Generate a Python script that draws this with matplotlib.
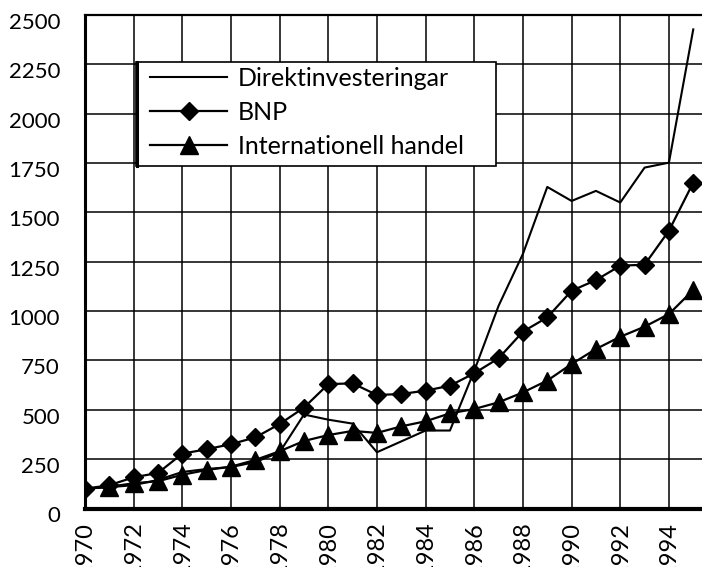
import matplotlib
matplotlib.use("Agg")
import matplotlib.pyplot as plt
import matplotlib.transforms as mtransforms
from matplotlib.patches import Rectangle
from matplotlib.lines import Line2D

years = list(range(1970, 1996))
direkt = [100, 108, 118, 145, 185, 200, 210, 235, 285, 476, 450, 430, 285, 340,
          395, 395, 698, 1027, 1290, 1629, 1558, 1609, 1550, 1727, 1752, 2427]
bnp = [100, 118, 158, 180, 278, 300, 326, 360, 428, 511, 630, 634, 575, 580,
       597, 622, 685, 761, 896, 968, 1103, 1157, 1230, 1235, 1407, 1651]
handel = [100, 110, 128, 138, 171, 195, 212, 246, 290, 342, 372, 393, 383, 416,
          442, 482, 504, 538, 588, 648, 732, 808, 870, 921, 985, 1107]
labels = ["Direktinvesteringar", "BNP", "Internationell handel"]
yticks = [0, 250, 500, 750, 1000, 1250, 1500, 1750, 2000, 2250, 2500]
xticks = list(range(1970, 1996, 2))

plt.rcParams['font.family'] = ['Lato', 'DejaVu Sans']

fig = plt.figure(figsize=(7.02, 5.67), dpi=100)
W, H = 702, 567
x0, x1, ytop, ybot = 85, 702, 15, 508.5
ax = fig.add_axes([x0 / W, 1 - ybot / H, (x1 - x0) / W, (ybot - ytop) / H])
aw, ah = x1 - x0, ybot - ytop

px_per_year = 24.33
ax.set_xlim(1970, 1970 + aw / px_per_year)
ax.set_ylim(0, 2500)

ax.plot(years, direkt, color='black', lw=1.5, label=labels[0], zorder=3)
ax.plot(years, handel, color='black', lw=1.6, marker='^', markersize=13,
        markevery=list(range(1, len(years))), label=labels[2], zorder=4)
ax.plot(years, bnp, color='black', lw=1.6, marker='D', markersize=9.5,
        label=labels[1], zorder=3.5)

ax.set_xticks(xticks)
ax.set_xticklabels([str(y) for y in xticks], rotation=90, fontsize=17)
ax.set_yticks(yticks)
ax.set_yticklabels([str(v) for v in yticks], fontsize=16)
ax.tick_params(axis='both', length=0)
ax.tick_params(axis='y', pad=18)
ax.tick_params(axis='x', pad=9.5)

offset = mtransforms.ScaledTranslation(0, -0.06, fig.dpi_scale_trans)
for lab in ax.get_yticklabels():
    lab.set_transform(lab.get_transform() + offset)

ax.grid(True, color='black', lw=1.1)
ax.set_axisbelow(True)
ax.spines['right'].set_visible(False)
ax.spines['left'].set_linewidth(2.2)
ax.spines['bottom'].set_linewidth(3)
ax.spines['top'].set_linewidth(1.6)

# legend box (pixel-based placement)
bx0, bx1, by0, by1 = 136, 496, 62, 166
def ax_x(px):
    return (px - x0) / aw
def ax_y(py):
    return (ybot - py) / ah
box = Rectangle((ax_x(bx0), ax_y(by1)), ax_x(bx1) - ax_x(bx0), ax_y(by0) - ax_y(by1),
                transform=ax.transAxes, facecolor='white', edgecolor='black',
                lw=1.2, zorder=2.6)
ax.add_patch(box)
ax.add_line(Line2D([ax_x(bx0 + 1), ax_x(bx0 + 1)], [ax_y(by1), ax_y(by0)],
                   transform=ax.transAxes, color='black', lw=2.2, zorder=2.7))

h, l = ax.get_legend_handles_labels()
hd = {lab: hh for hh, lab in zip(h, l)}
leg = ax.legend([hd[x] for x in labels], labels, loc='upper left',
                bbox_to_anchor=(ax_x(150), ax_y(67)),
                borderaxespad=0, fontsize=18, frameon=False,
                handlelength=3.08, handletextpad=0.44, labelspacing=0.43,
                borderpad=0)
leg.set_zorder(6)

fig.savefig("out.png", dpi=100)
